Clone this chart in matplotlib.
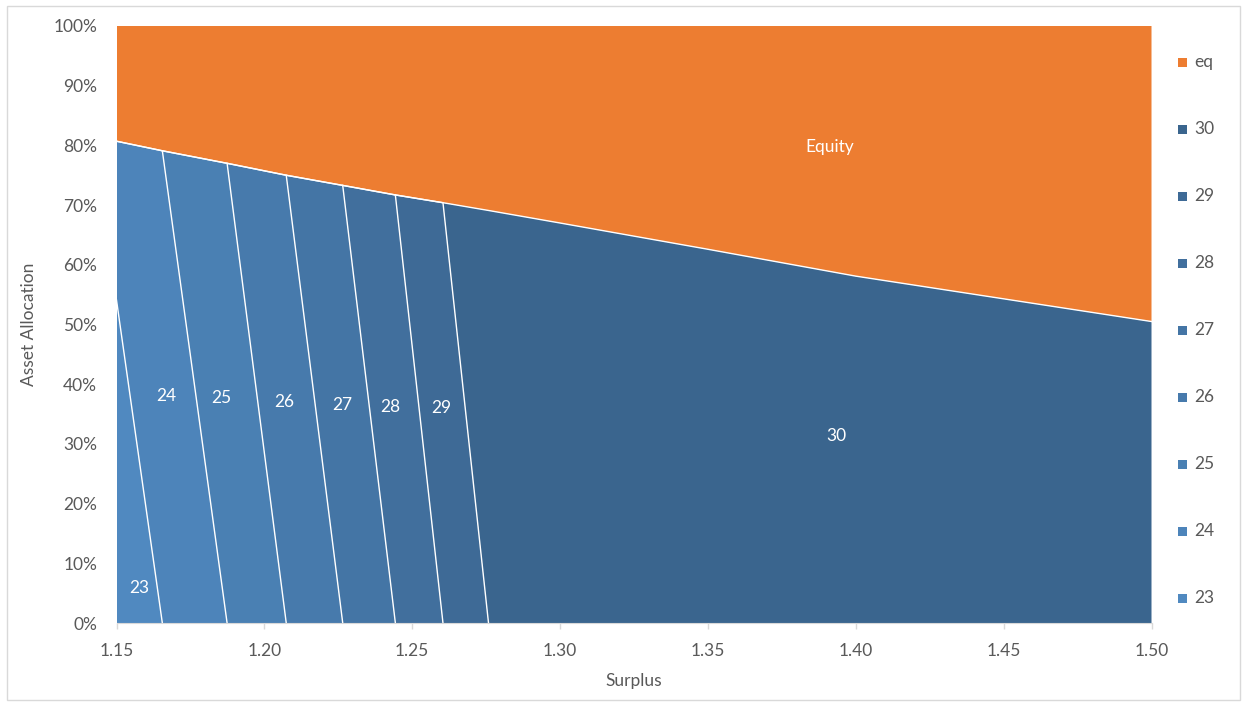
import matplotlib.pyplot as plt
import numpy as np
from matplotlib.patches import Rectangle
from matplotlib.ticker import FuncFormatter

plt.rcParams['font.family'] = ['Lato', 'DejaVu Sans']

# Surplus points (x) and allocation of each series in %
surplus = [1.15, 1.1655, 1.1874, 1.2074, 1.2265, 1.2443, 1.2604, 1.2758, 1.30, 1.35, 1.40, 1.45, 1.50]
s23 = [54.1, 0, 0, 0, 0, 0, 0, 0, 0, 0, 0, 0, 0]
s24 = [26.6, 79.1, 0, 0, 0, 0, 0, 0, 0, 0, 0, 0, 0]
s25 = [0, 0, 77.0, 0, 0, 0, 0, 0, 0, 0, 0, 0, 0]
s26 = [0, 0, 0, 75.0, 0, 0, 0, 0, 0, 0, 0, 0, 0]
s27 = [0, 0, 0, 0, 73.3, 0, 0, 0, 0, 0, 0, 0, 0]
s28 = [0, 0, 0, 0, 0, 71.7, 0, 0, 0, 0, 0, 0, 0]
s29 = [0, 0, 0, 0, 0, 0, 70.4, 0, 0, 0, 0, 0, 0]
s30 = [0, 0, 0, 0, 0, 0, 0, 69.1, 67.0, 62.6, 58.1, 54.3, 50.5]
eq = [19.3, 20.9, 23.0, 25.0, 26.7, 28.3, 29.6, 30.9, 33.0, 37.4, 41.9, 45.7, 49.5]

series_names = ['23', '24', '25', '26', '27', '28', '29', '30', 'eq']
colores = ['#5089C0', '#4D84BA', '#4A80B3', '#477AAC', '#4475A5',
           '#416F9D', '#3E6A96', '#3A658E', '#ED7D31']

# area labels
label_text = ['23', '24', '25', '26', '27', '28', '29', '30', 'Equity']
label_x = [1.1578, 1.1669, 1.1855, 1.2068, 1.2264, 1.2427, 1.2599, 1.3935, 1.3911]
label_y = [5.9, 38.0, 37.7, 37.0, 36.5, 36.2, 36.0, 31.3, 79.7]

W, H = 1242, 702
fig = plt.figure(figsize=(W / 100, H / 100), dpi=100)
ax = fig.add_axes([116.5 / W, 1 - 623 / H, 1035 / W, 597 / H])

x = np.array(surplus)
datos = [np.array(s) for s in (s23, s24, s25, s26, s27, s28, s29, s30, eq)]
ax.stackplot(x, *datos, colors=colores, linewidth=0, antialiased=True)

# white borders between areas
acum = np.zeros(len(x))
for s in datos[:-2]:
    acum = acum + s
    vacio = (s == 0) & (np.roll(s, 1) == 0) & (np.roll(s, -1) == 0)
    vacio[0] = (s[0] == 0) & (s[1] == 0)
    vacio[-1] = (s[-1] == 0) & (s[-2] == 0)
    ax.plot(x, np.ma.masked_where(vacio, acum), color='white', lw=1.0, zorder=3)
borde = sum(datos[:-1])
ax.plot(x, borde, color='white', lw=1.0, zorder=3)

for t, lx, ly in zip(label_text, label_x, label_y):
    ax.text(lx, ly, t, color='white', fontsize=12.5, ha='center', va='center', zorder=4)

ax.set_xlim(1.15, 1.50)
ax.set_ylim(0, 100)
ax.set_xticks(np.arange(1.15, 1.501, 0.05))
ax.set_xticklabels(['%.2f' % v for v in np.arange(1.15, 1.501, 0.05)])
ax.set_yticks(np.arange(0, 101, 10))
ax.yaxis.set_major_formatter(FuncFormatter(lambda v, p: '%d%%' % v))

for lado in ['top', 'right', 'left']:
    ax.spines[lado].set_visible(False)
ax.spines['bottom'].set_color('#D9D9D9')
ax.spines['bottom'].set_zorder(5)
ax.tick_params(axis='x', colors='#D9D9D9', length=4.5, width=1, pad=10, labelcolor='#595959', labelsize=12.5)
ax.tick_params(axis='y', length=0, pad=14, labelcolor='#595959', labelsize=12.5)
ax.set_xlabel('Surplus', color='#595959', fontsize=12.5, labelpad=10)
ax.set_ylabel('Asset Allocation', color='#595959', fontsize=12.5, labelpad=12)

# legend on the right (eq on top, 23 at bottom)
for i, (nombre, col) in enumerate(zip(series_names[::-1], colores[::-1])):
    ypx = 62 + 67 * i
    fig.patches.append(Rectangle(((1178) / W, 1 - (ypx + 4.5) / H), 9 / W, 9 / H,
                                 transform=fig.transFigure, facecolor=col, edgecolor='none'))
    fig.text(1194 / W, 1 - ypx / H, nombre, color='#595959', fontsize=12.5, ha='left', va='center')

# chart border
fig.patches.append(Rectangle((7 / W, 2 / H), 1233 / W, 694 / H, transform=fig.transFigure,
                             facecolor='none', edgecolor='#D9D9D9', lw=1))

fig.savefig('out.png', dpi=100)
